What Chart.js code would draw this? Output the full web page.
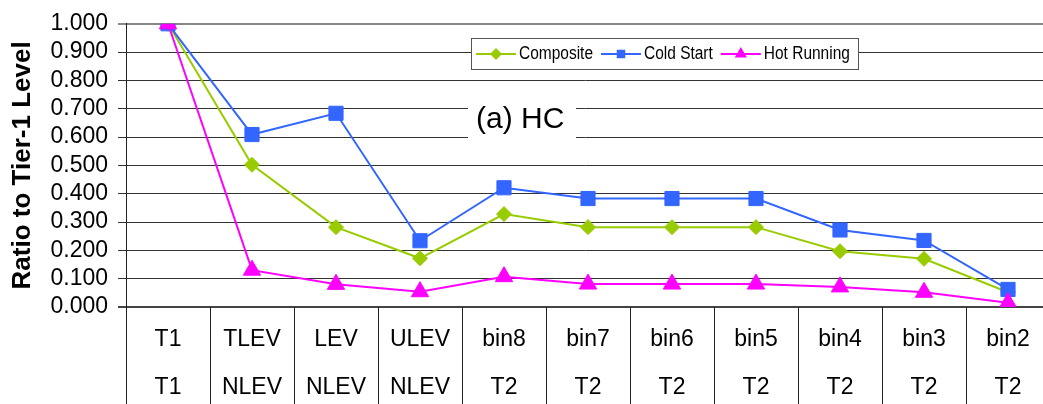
<!DOCTYPE html>
<html>
<head>
<meta charset="utf-8">
<script src="https://cdn.jsdelivr.net/npm/chart.js@4"></script>
<style>
    html, body { margin: 0; padding: 0; background: #fff; }
    #wrap { width: 1043px; height: 404px; }
</style>
</head>
<body>
<div id="wrap"><canvas id="hcChart" width="1043" height="404"></canvas></div>
<script>
var tier1Labels = ["T1", "TLEV", "LEV", "ULEV", "bin8", "bin7", "bin6", "bin5", "bin4", "bin3", "bin2"];
var tier2Labels = ["T1", "NLEV", "NLEV", "NLEV", "T2", "T2", "T2", "T2", "T2", "T2", "T2"];
var composite = [1.000, 0.502, 0.282, 0.172, 0.328, 0.282, 0.282, 0.282, 0.197, 0.170, 0.052];
var coldStart = [1.000, 0.609, 0.684, 0.234, 0.421, 0.383, 0.383, 0.383, 0.272, 0.235, 0.062];
var hotRunning = [1.000, 0.130, 0.080, 0.054, 0.107, 0.081, 0.081, 0.081, 0.071, 0.052, 0.015];
var yTicks = [0, 0.1, 0.2, 0.3, 0.4, 0.5, 0.6, 0.7, 0.8, 0.9, 1.0];

var FONT = "'Liberation Sans', Arial, sans-serif";

function drawMarker(ctx, style, x, y, r, color) {
    ctx.save();
    ctx.fillStyle = color;
    ctx.beginPath();
    if (style === "rect") {
        var s = r * Math.SQRT1_2;
        ctx.rect(x - s, y - s, 2 * s, 2 * s);
    } else if (style === "rectRot") {
        ctx.moveTo(x - r, y);
        ctx.lineTo(x, y - r);
        ctx.lineTo(x + r, y);
        ctx.lineTo(x, y + r);
    } else {
        ctx.moveTo(x, y - r);
        ctx.lineTo(x + r * 0.866, y + r / 2);
        ctx.lineTo(x - r * 0.866, y + r / 2);
    }
    ctx.closePath();
    ctx.fill();
    ctx.restore();
}

// the plot runs a little past the right edge of the picture
var widenArea = {
    id: "widenArea",
    afterLayout: function (chart) {
        var extra = 7;
        var xs = chart.scales.x;
        xs.right += extra;
        xs.width += extra;
        xs.configure();
        chart.chartArea.right += extra;
        chart.chartArea.width += extra;
    }
};

// table lines under the x axis
var tableLines = {
    id: "tableLines",
    afterDraw: function (chart) {
        var ctx = chart.ctx;
        var xs = chart.scales.x;
        var area = chart.chartArea;
        ctx.save();
        ctx.strokeStyle = "#222";
        ctx.lineWidth = 1;
        for (var i = 0; i < tier1Labels.length; i++) {
            var px;
            if (i === 0) {
                px = area.left;
            } else {
                px = (xs.getPixelForValue(i - 1) + xs.getPixelForValue(i)) / 2;
            }
            px = Math.round(px) + 0.5;
            ctx.beginPath();
            ctx.moveTo(px, area.bottom);
            ctx.lineTo(px, chart.height);
            ctx.stroke();
        }
        ctx.restore();
    }
};

// legend box and panel label
var boxLegend = {
    id: "boxLegend",
    afterDraw: function (chart) {
        var ctx = chart.ctx;
        ctx.save();

        // "(a) HC"
        ctx.fillStyle = "#fff";
        ctx.fillRect(468, 99, 108, 40);
        ctx.fillStyle = "#000";
        ctx.font = "30px " + FONT;
        ctx.textBaseline = "alphabetic";
        ctx.fillText("(a) HC", 476, 128);

        // legend
        var left = 471, top = 38, right = 858, h = 31;
        ctx.fillStyle = "#fff";
        ctx.fillRect(left, top, right - left, h);
        ctx.strokeStyle = "#555";
        ctx.lineWidth = 1;
        ctx.strokeRect(left + 0.5, top + 0.5, right - left, h);

        var x = 476;
        var cy = top + h / 2 + 0.5;
        ctx.font = "18px " + FONT;
        ctx.textBaseline = "middle";
        chart.data.datasets.forEach(function (ds) {
            ctx.strokeStyle = ds.borderColor;
            ctx.lineWidth = 2;
            ctx.beginPath();
            ctx.moveTo(x, cy);
            ctx.lineTo(x + 40, cy);
            ctx.stroke();
            drawMarker(ctx, ds.pointStyle, x + 20, cy, ds.pointStyle === "triangle" ? 7 : 6, ds.borderColor);
            x += 43;
            ctx.save();
            ctx.translate(x, cy);
            ctx.scale(0.86, 1);
            ctx.fillStyle = "#000";
            ctx.fillText(ds.label, 0, 0);
            var w = ctx.measureText(ds.label).width * 0.86;
            ctx.restore();
            x += w + 8;
        });
        ctx.restore();
    }
};

var ctx = document.getElementById("hcChart").getContext("2d");
new Chart(ctx, {
    type: "line",
    data: {
        labels: tier1Labels.map(function (t, i) { return [t, tier2Labels[i]]; }),
        datasets: [{
            label: "Composite",
            data: composite,
            borderColor: "#99CC00",
            backgroundColor: "#99CC00",
            pointStyle: "rectRot",
            pointRadius: 7.5,
            order: 2
        }, {
            label: "Cold Start",
            data: coldStart,
            borderColor: "#3366FF",
            backgroundColor: "#3366FF",
            pointStyle: "rect",
            pointRadius: 10,
            order: 1
        }, {
            label: "Hot Running",
            data: hotRunning,
            borderColor: "#FF00FF",
            backgroundColor: "#FF00FF",
            pointStyle: "triangle",
            pointRadius: 10,
            order: 0
        }]
    },
    options: {
        responsive: false,
        animation: false,
        events: [],
        elements: {
            line: { borderWidth: 2, tension: 0 },
            point: { borderWidth: 1 }
        },
        layout: { autoPadding: false, padding: { top: 20, right: 0, bottom: 0, left: 0 } },
        plugins: {
            legend: { display: false },
            tooltip: { enabled: false }
        },
        scales: {
            x: {
                type: "category",
                offset: true,
                grid: { display: false, drawTicks: false },
                border: { display: false },
                ticks: {
                    autoSkip: false,
                    maxRotation: 0,
                    minRotation: 0,
                    padding: 9,
                    color: "#000",
                    font: { family: FONT, size: 23, lineHeight: 48 / 23 }
                },
                afterFit: function (scale) {
                    scale.height = 97;
                    scale.paddingLeft = 0;
                    scale.paddingRight = 0;
                }
            },
            y: {
                min: 0,
                max: 1,
                afterBuildTicks: function (scale) {
                    scale.ticks = yTicks.map(function (v) { return { value: v }; });
                },
                grid: {
                    tickLength: 8,
                    color: function (c) {
                        if (c.tick && c.tick.value === 0) return "#444";
                        if (c.tick && c.tick.value === 1) return "#888";
                        return "#333";
                    },
                    lineWidth: function (c) {
                        if (c.tick && (c.tick.value === 0 || c.tick.value === 1)) return 2;
                        return 1;
                    }
                },
                border: { display: true, color: "#222", width: 1 },
                ticks: {
                    autoSkip: false,
                    padding: 10,
                    color: "#000",
                    font: { family: FONT, size: 23 },
                    callback: function (v) { return Number(v).toFixed(3); }
                },
                title: {
                    display: true,
                    text: "Ratio to Tier-1 Level",
                    color: "#000",
                    font: { family: FONT, size: 26, weight: "bold" },
                    padding: { top: 7, bottom: 0 }
                },
                afterFit: function (scale) { scale.width = 126; }
            }
        }
    },
    plugins: [widenArea, tableLines, boxLegend]
});
</script>
</body>
</html>
